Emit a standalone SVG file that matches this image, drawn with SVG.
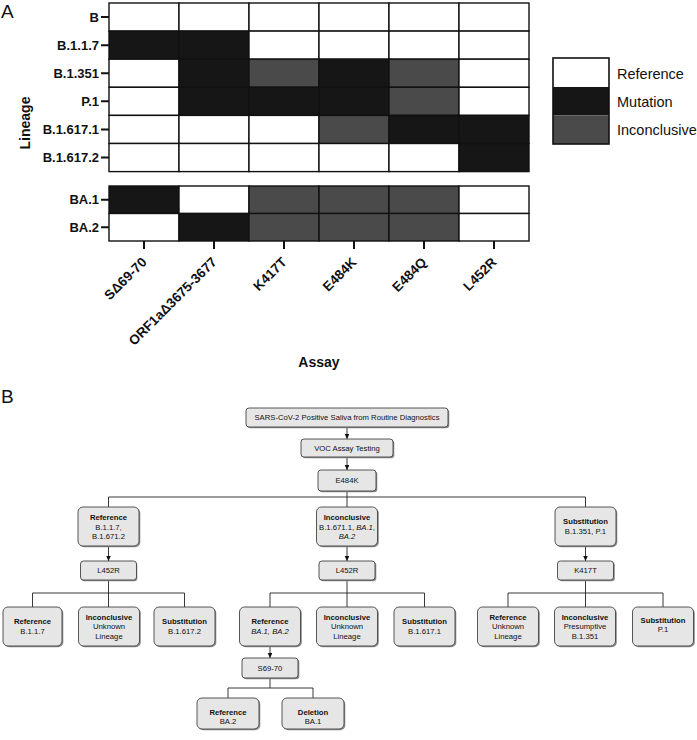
<svg xmlns="http://www.w3.org/2000/svg" width="697" height="740" viewBox="0 0 697 740">
<defs>
<style>
.w{fill:#ffffff}
.m{fill:#161616}
.i{fill:#4a4a4a}
.cell{stroke:#111;stroke-width:1.4}
.rl{font-family:"Liberation Sans",Arial,sans-serif;font-weight:bold;font-size:13px;fill:#111;text-anchor:end}
.xl{font-family:"Liberation Sans",Arial,sans-serif;font-weight:bold;font-size:13.5px;fill:#111;text-anchor:end}
.tick{stroke:#111;stroke-width:2}
.panel{font-family:"Liberation Sans",Arial,sans-serif;font-size:19px;fill:#111}
.lg{font-family:"Liberation Sans",Arial,sans-serif;font-size:14.5px;fill:#111}
.ax{font-family:"Liberation Sans",Arial,sans-serif;font-weight:bold;font-size:14px;fill:#111;text-anchor:middle}
.box{fill:#e6e6e6;stroke:#444;stroke-width:0.9}
.sh{fill:#8c8c8c}
.t{font-family:"Liberation Sans",Arial,sans-serif;font-size:7.7px;fill:#111;text-anchor:middle}
.b{font-weight:bold}
.it{font-style:italic}
.con{fill:none;stroke:#222;stroke-width:0.9}
</style>
<marker id="arr" markerWidth="5" markerHeight="5" refX="5" refY="2.3" orient="auto" markerUnits="userSpaceOnUse">
<path d="M0,0 L5,2.3 L0,4.6 z" fill="#111"/>
</marker>
</defs>

<!-- Panel A -->
<text class="panel" x="1" y="18">A</text>
<g id="heatmap">
<g id="row-B">
<rect class="cell w" x="109" y="3" width="70" height="28.1"/>
<rect class="cell w" x="179" y="3" width="70" height="28.1"/>
<rect class="cell w" x="249" y="3" width="70" height="28.1"/>
<rect class="cell w" x="319" y="3" width="70" height="28.1"/>
<rect class="cell w" x="389" y="3" width="70" height="28.1"/>
<rect class="cell w" x="459" y="3" width="70" height="28.1"/>
</g>
<g id="row-B117">
<rect class="cell m" x="109" y="31.1" width="70" height="28.1"/>
<rect class="cell m" x="179" y="31.1" width="70" height="28.1"/>
<rect class="cell w" x="249" y="31.1" width="70" height="28.1"/>
<rect class="cell w" x="319" y="31.1" width="70" height="28.1"/>
<rect class="cell w" x="389" y="31.1" width="70" height="28.1"/>
<rect class="cell w" x="459" y="31.1" width="70" height="28.1"/>
</g>
<g id="row-B1351">
<rect class="cell w" x="109" y="59.2" width="70" height="28.1"/>
<rect class="cell m" x="179" y="59.2" width="70" height="28.1"/>
<rect class="cell i" x="249" y="59.2" width="70" height="28.1"/>
<rect class="cell m" x="319" y="59.2" width="70" height="28.1"/>
<rect class="cell i" x="389" y="59.2" width="70" height="28.1"/>
<rect class="cell w" x="459" y="59.2" width="70" height="28.1"/>
</g>
<g id="row-P1">
<rect class="cell w" x="109" y="87.3" width="70" height="28.1"/>
<rect class="cell m" x="179" y="87.3" width="70" height="28.1"/>
<rect class="cell m" x="249" y="87.3" width="70" height="28.1"/>
<rect class="cell m" x="319" y="87.3" width="70" height="28.1"/>
<rect class="cell i" x="389" y="87.3" width="70" height="28.1"/>
<rect class="cell w" x="459" y="87.3" width="70" height="28.1"/>
</g>
<g id="row-B16171">
<rect class="cell w" x="109" y="115.4" width="70" height="28.1"/>
<rect class="cell w" x="179" y="115.4" width="70" height="28.1"/>
<rect class="cell w" x="249" y="115.4" width="70" height="28.1"/>
<rect class="cell i" x="319" y="115.4" width="70" height="28.1"/>
<rect class="cell m" x="389" y="115.4" width="70" height="28.1"/>
<rect class="cell m" x="459" y="115.4" width="70" height="28.1"/>
</g>
<g id="row-B16172">
<rect class="cell w" x="109" y="143.5" width="70" height="28.1"/>
<rect class="cell w" x="179" y="143.5" width="70" height="28.1"/>
<rect class="cell w" x="249" y="143.5" width="70" height="28.1"/>
<rect class="cell w" x="319" y="143.5" width="70" height="28.1"/>
<rect class="cell w" x="389" y="143.5" width="70" height="28.1"/>
<rect class="cell m" x="459" y="143.5" width="70" height="28.1"/>
</g>
<g id="row-BA1">
<rect class="cell m" x="109" y="186" width="70" height="27.5"/>
<rect class="cell w" x="179" y="186" width="70" height="27.5"/>
<rect class="cell i" x="249" y="186" width="70" height="27.5"/>
<rect class="cell i" x="319" y="186" width="70" height="27.5"/>
<rect class="cell i" x="389" y="186" width="70" height="27.5"/>
<rect class="cell w" x="459" y="186" width="70" height="27.5"/>
</g>
<g id="row-BA2">
<rect class="cell w" x="109" y="213.5" width="70" height="27.5"/>
<rect class="cell m" x="179" y="213.5" width="70" height="27.5"/>
<rect class="cell i" x="249" y="213.5" width="70" height="27.5"/>
<rect class="cell i" x="319" y="213.5" width="70" height="27.5"/>
<rect class="cell i" x="389" y="213.5" width="70" height="27.5"/>
<rect class="cell w" x="459" y="213.5" width="70" height="27.5"/>
</g>
</g>

<g id="y-axis">
<path class="tick" d="M101 17.05H109M101 45.15H109M101 73.25H109M101 101.35H109M101 129.45H109M101 157.55H109M101 199.75H109M101 227.25H109"/>
<text class="rl" x="99" y="21.6">B</text>
<text class="rl" x="99" y="49.8">B.1.1.7</text>
<text class="rl" x="99" y="77.9">B.1.351</text>
<text class="rl" x="99" y="106">P.1</text>
<text class="rl" x="99" y="134">B.1.617.1</text>
<text class="rl" x="99" y="162.2">B.1.617.2</text>
<text class="rl" x="99" y="204.3">BA.1</text>
<text class="rl" x="99" y="231.9">BA.2</text>
<text class="ax" transform="translate(30,123) rotate(-90)">Lineage</text>
</g>

<g id="x-axis">
<path class="tick" d="M144 241V249M214 241V249M284 241V249M354 241V249M424 241V249M494 241V249"/>
<text class="xl" transform="translate(147.5,263) rotate(-45)">SΔ69-70</text>
<text class="xl" transform="translate(217.5,263) rotate(-45)">ORF1aΔ3675-3677</text>
<text class="xl" transform="translate(287.5,263) rotate(-45)">K417T</text>
<text class="xl" transform="translate(357.5,263) rotate(-45)">E484K</text>
<text class="xl" transform="translate(427.5,263) rotate(-45)">E484Q</text>
<text class="xl" transform="translate(497.5,263) rotate(-45)">L452R</text>
<text class="ax" x="319" y="367">Assay</text>
</g>

<g id="legend">
<rect class="w" x="553" y="58" width="56" height="29"/>
<rect class="m" x="553" y="87" width="56" height="28.5"/>
<rect class="i" x="553" y="115.5" width="56" height="28.5"/>
<rect x="553" y="58" width="56" height="86" fill="none" stroke="#111" stroke-width="1.6"/>
<text class="lg" x="617" y="78.5">Reference</text>
<text class="lg" x="617" y="107">Mutation</text>
<text class="lg" x="617" y="134.5">Inconclusive</text>
</g>

<!-- Panel B -->
<text class="panel" x="1" y="403">B</text>

<g id="connectors">
<path class="con" d="M347 427V439" marker-end="url(#arr)"/>
<path class="con" d="M347 457V470" marker-end="url(#arr)"/>
<path class="con" d="M347 491V507M108.5 497H585.5M108.5 497V507M585.5 497V507"/>
<path class="con" d="M108.5 546V561" marker-end="url(#arr)"/>
<path class="con" d="M347 546V561" marker-end="url(#arr)"/>
<path class="con" d="M585.5 546V561" marker-end="url(#arr)"/>
<path class="con" d="M108.5 580V607M32.5 593H184.5M32.5 593V607M184.5 593V607"/>
<path class="con" d="M347 580V607M270 593H424.5M270 593V607M424.5 593V607"/>
<path class="con" d="M585.5 580V607M508 593H663M508 593V607M663 593V607"/>
<path class="con" d="M270 646V658" marker-end="url(#arr)"/>
<path class="con" d="M270 678V688M228 688H313M228 688V698M313 688V698"/>
</g>

<g id="n-saliva">
<rect class="sh" x="247.3" y="409.3" width="202" height="19" rx="3"/>
<rect class="box" x="246" y="408" width="202" height="19" rx="3"/>
<text class="t" x="347" y="420.3">SARS-CoV-2 Positive Saliva from Routine Diagnostics</text>
</g>
<g id="n-voc">
<rect class="sh" x="302.3" y="440.3" width="92" height="18" rx="3"/>
<rect class="box" x="301" y="439" width="92" height="18" rx="3"/>
<text class="t" x="347" y="450.8">VOC Assay Testing</text>
</g>
<g id="n-e484k">
<rect class="sh" x="319.3" y="471.3" width="58" height="21" rx="3"/>
<rect class="box" x="318" y="470" width="58" height="21" rx="3"/>
<text class="t" x="347" y="483.3">E484K</text>
</g>

<g id="n-ref1">
<rect class="sh" x="79.3" y="508.3" width="61" height="39" rx="5"/>
<rect class="box" x="78" y="507" width="61" height="39" rx="5"/>
<text class="t b" x="108.5" y="520">Reference</text>
<text class="t" x="108.5" y="529.6">B.1.1.7,</text>
<text class="t" x="108.5" y="539">B.1.671.2</text>
</g>
<g id="n-inc1">
<rect class="sh" x="317.8" y="508.3" width="61" height="39" rx="5"/>
<rect class="box" x="316.5" y="507" width="61" height="39" rx="5"/>
<text class="t b" x="347" y="520">Inconclusive</text>
<text class="t" x="347" y="529.6">B.1.671.1, <tspan class="it">BA.1</tspan>,</text>
<text class="t it" x="347" y="539">BA.2</text>
</g>
<g id="n-sub1">
<rect class="sh" x="556.3" y="508.3" width="61" height="39" rx="5"/>
<rect class="box" x="555" y="507" width="61" height="39" rx="5"/>
<text class="t b" x="585.5" y="524.4">Substitution</text>
<text class="t" x="585.5" y="533.8">B.1.351, P.1</text>
</g>

<g id="n-l452r-a">
<rect class="sh" x="81.3" y="562.3" width="56" height="19" rx="3"/>
<rect class="box" x="80.5" y="561" width="56" height="19" rx="3"/>
<text class="t" x="108.5" y="573.3">L452R</text>
</g>
<g id="n-l452r-b">
<rect class="sh" x="320.3" y="562.3" width="56" height="19" rx="3"/>
<rect class="box" x="319" y="561" width="56" height="19" rx="3"/>
<text class="t" x="347" y="573.3">L452R</text>
</g>
<g id="n-k417t">
<rect class="sh" x="558.8" y="562.3" width="56" height="19" rx="3"/>
<rect class="box" x="557.5" y="561" width="56" height="19" rx="3"/>
<text class="t" x="585.5" y="573.3">K417T</text>
</g>

<g id="n-ref-b117">
<rect class="sh" x="4.3" y="608.3" width="59" height="39" rx="5"/>
<rect class="box" x="3" y="607" width="59" height="39" rx="5"/>
<text class="t b" x="32.5" y="624.4">Reference</text>
<text class="t" x="32.5" y="633.6">B.1.1.7</text>
</g>
<g id="n-inc-a">
<rect class="sh" x="79.8" y="608.3" width="61" height="39" rx="5"/>
<rect class="box" x="78.5" y="607" width="61" height="39" rx="5"/>
<text class="t b" x="109" y="620">Inconclusive</text>
<text class="t" x="109" y="629.3">Unknown</text>
<text class="t" x="109" y="638.6">Lineage</text>
</g>
<g id="n-sub-b16172">
<rect class="sh" x="155.3" y="608.3" width="61" height="39" rx="5"/>
<rect class="box" x="154" y="607" width="61" height="39" rx="5"/>
<text class="t b" x="184.5" y="624.4">Substitution</text>
<text class="t" x="184.5" y="633.6">B.1.617.2</text>
</g>

<g id="n-ref-ba">
<rect class="sh" x="240.8" y="608.3" width="61" height="39" rx="5"/>
<rect class="box" x="239.5" y="607" width="61" height="39" rx="5"/>
<text class="t b" x="270" y="624.4">Reference</text>
<text class="t it" x="270" y="633.6">BA.1, BA.2</text>
</g>
<g id="n-inc-b">
<rect class="sh" x="317.8" y="608.3" width="61" height="39" rx="5"/>
<rect class="box" x="316.5" y="607" width="61" height="39" rx="5"/>
<text class="t b" x="347" y="620">Inconclusive</text>
<text class="t" x="347" y="629.3">Unknown</text>
<text class="t" x="347" y="638.6">Lineage</text>
</g>
<g id="n-sub-b16171">
<rect class="sh" x="395.3" y="608.3" width="61" height="39" rx="5"/>
<rect class="box" x="394" y="607" width="61" height="39" rx="5"/>
<text class="t b" x="424.5" y="624.4">Substitution</text>
<text class="t" x="424.5" y="633.6">B.1.617.1</text>
</g>

<g id="n-ref-unk">
<rect class="sh" x="478.8" y="608.3" width="61" height="39" rx="5"/>
<rect class="box" x="477.5" y="607" width="61" height="39" rx="5"/>
<text class="t b" x="508" y="620">Reference</text>
<text class="t" x="508" y="629.3">Unknown</text>
<text class="t" x="508" y="638.6">Lineage</text>
</g>
<g id="n-inc-pres">
<rect class="sh" x="555.8" y="608.3" width="61" height="39" rx="5"/>
<rect class="box" x="554.5" y="607" width="61" height="39" rx="5"/>
<text class="t b" x="585" y="620">Inconclusive</text>
<text class="t" x="585" y="629.3">Presumptive</text>
<text class="t" x="585" y="638.6">B.1.351</text>
</g>
<g id="n-sub-p1">
<rect class="sh" x="633.8" y="608.3" width="61" height="39" rx="5"/>
<rect class="box" x="632.5" y="607" width="61" height="39" rx="5"/>
<text class="t b" x="663" y="622.6">Substitution</text>
<text class="t" x="663" y="631.9">P.1</text>
</g>

<g id="n-s6970">
<rect class="sh" x="243.3" y="659.3" width="56" height="20" rx="3"/>
<rect class="box" x="242" y="658" width="56" height="20" rx="3"/>
<text class="t" x="270" y="670.8">S69-70</text>
</g>
<g id="n-ref-ba2">
<rect class="sh" x="198.3" y="699.3" width="62" height="31" rx="5"/>
<rect class="box" x="197" y="698" width="62" height="31" rx="5"/>
<text class="t b" x="228" y="715">Reference</text>
<text class="t" x="228" y="724.2">BA.2</text>
</g>
<g id="n-del-ba1">
<rect class="sh" x="283.3" y="699.3" width="62" height="31" rx="5"/>
<rect class="box" x="282" y="698" width="62" height="31" rx="5"/>
<text class="t b" x="313" y="715">Deletion</text>
<text class="t" x="313" y="724.2">BA.1</text>
</g>
</svg>
